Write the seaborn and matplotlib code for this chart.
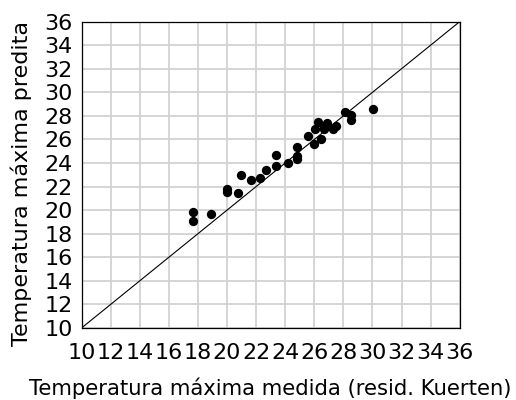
import matplotlib
matplotlib.use("Agg")
import matplotlib.pyplot as plt
import seaborn as sns
import pandas as pd
import numpy as np
from matplotlib.ticker import MultipleLocator

medida = [17.67, 17.67, 18.93, 19.97, 19.97, 20.77, 20.95, 21.66, 22.28, 22.67,
          23.38, 23.38, 24.18, 24.80, 24.80, 24.80, 25.58, 25.97, 26.06, 26.27,
          26.47, 26.68, 26.68, 26.88, 27.30, 27.48, 28.10, 28.49, 28.49, 30.05]
predita = [19.83, 19.04, 19.69, 21.78, 21.50, 21.44, 23.00, 22.60, 22.72, 23.40,
           24.68, 23.77, 24.02, 25.38, 24.56, 24.30, 26.28, 25.60, 26.85, 27.50,
           26.03, 26.85, 27.10, 27.36, 26.85, 27.10, 28.32, 28.06, 27.67, 28.57]
ticks = list(range(10, 37, 2))
xlabel = "Temperatura máxima medida (resid. Kuerten)"
ylabel = "Temperatura máxima predita"

df = pd.DataFrame({"medida": medida, "predita": predita})

sns.set_theme(style="white")
plt.rcParams['font.family'] = ['DejaVu Sans']

fig = plt.figure(figsize=(5.16, 4.0), dpi=100)
ax = fig.add_axes([0.158, 0.18, 0.733, 0.766])

ax.set_xlim(10, 36)
ax.set_ylim(10, 36)
ax.set_xticks(ticks)
ax.set_yticks(ticks)
ax.xaxis.set_minor_locator(MultipleLocator(1))
ax.yaxis.set_minor_locator(MultipleLocator(1))
ax.grid(True, which="major", color="#d2d2d2", linewidth=1.3)
ax.set_axisbelow(True)

sns.lineplot(x=[10, 36], y=[10, 36], ax=ax, color="black", linewidth=0.8)
sns.scatterplot(data=df, x="medida", y="predita", ax=ax, color="black",
                s=45, edgecolor="black", linewidth=0, zorder=3)

for s in ax.spines.values():
    s.set_color("black")
    s.set_linewidth(0.9)

ax.tick_params(axis="both", which="major", direction="inout", length=7,
               width=0.9, colors="black", labelsize=16, pad=3)
ax.tick_params(axis="both", which="minor", direction="inout", length=5,
               width=0.9, colors="black")
ax.tick_params(axis="x", which="major", pad=7)
ax.set_xticklabels([str(t) for t in ticks])
ax.set_yticklabels([str(t) for t in ticks])

ax.set_xlabel(xlabel, fontsize=15.2, color="black", labelpad=11)
ax.set_ylabel(ylabel, fontsize=16, color="black")
ax.yaxis.set_label_coords(-0.131, 0.473)

fig.savefig("out.png", dpi=100, facecolor="white")
